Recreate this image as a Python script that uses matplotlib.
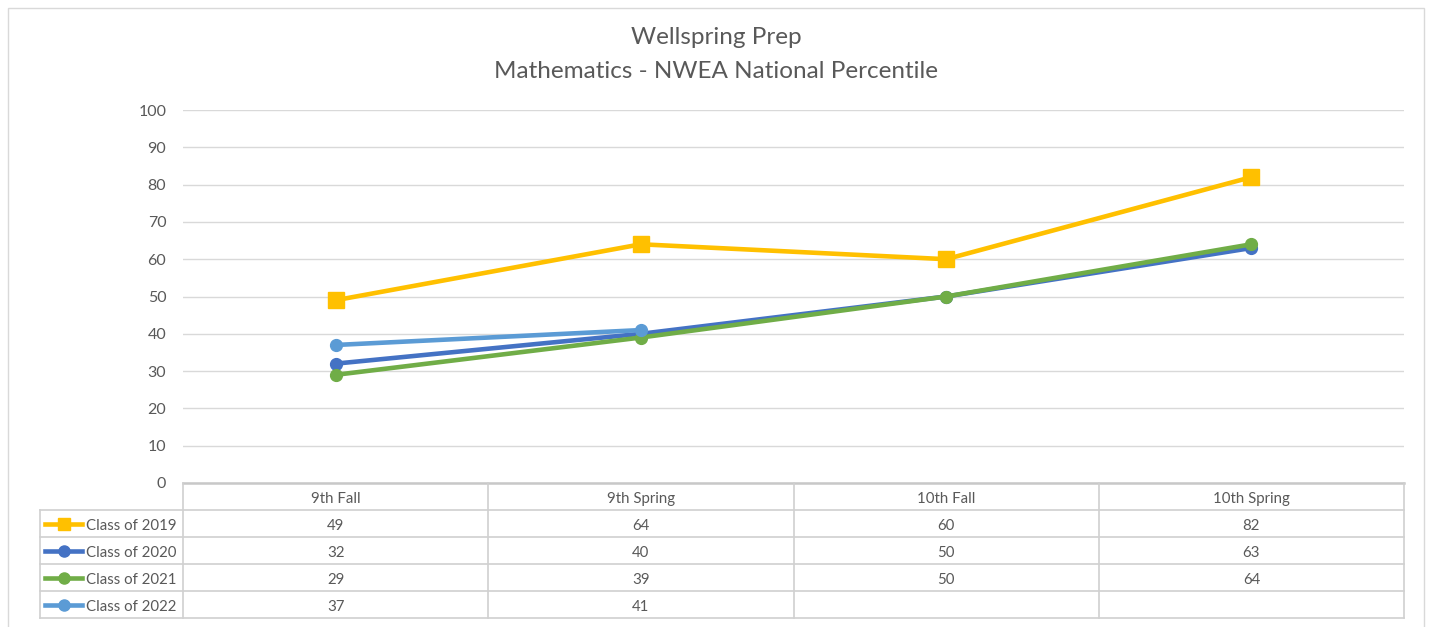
import matplotlib
matplotlib.use("Agg")
import matplotlib.pyplot as plt
import numpy as np
from matplotlib.lines import Line2D
from matplotlib.patches import Rectangle

plt.rcParams['font.family'] = ['Lato', 'DejaVu Sans']

# ---- data ----
categories = ["9th Fall", "9th Spring", "10th Fall", "10th Spring"]
series_names = ["Class of 2019", "Class of 2020", "Class of 2021", "Class of 2022"]
class_2019 = [49, 64, 60, 82]
class_2020 = [32, 40, 50, 63]
class_2021 = [29, 39, 50, 64]
class_2022 = [37, 41, None, None]
series_values = [class_2019, class_2020, class_2021, class_2022]
y_ticks = [0, 10, 20, 30, 40, 50, 60, 70, 80, 90, 100]
title_lines = ["Wellspring Prep", "Mathematics - NWEA National Percentile"]

colors = ["#FFC000", "#4472C4", "#70AD47", "#5B9BD5"]
markers = ["s", "o", "o", "o"]
msizes = [11, 8.5, 8.5, 8.5]
text_color = "#595959"
grid_color = "#D9D9D9"

W, H = 1429, 627
fig = plt.figure(figsize=(W / 100, H / 100), dpi=100)
fig.patch.set_facecolor("white")

def fx(px):
    return px / W

def fy(py):
    return 1 - py / H

# outer chart border
fig.add_artist(Rectangle((fx(8), fy(640)), fx(1424) - fx(8), fy(8) - fy(640),
                         transform=fig.transFigure, fill=False,
                         edgecolor="#D9D9D9", linewidth=1.0))

left_px, right_px = 183, 1404
top_px, bottom_px = 110, 483
ax = fig.add_axes([fx(left_px), fy(bottom_px), fx(right_px) - fx(left_px), fy(top_px) - fy(bottom_px)])
x = np.arange(len(categories))
for name, vals, c, m, ms in zip(series_names, series_values, colors, markers, msizes):
    v = np.array([np.nan if a is None else a for a in vals], dtype=float)
    ax.plot(x, v, color=c, linewidth=3.3, marker=m, markersize=ms,
            markerfacecolor=c, markeredgecolor=c, clip_on=False, solid_capstyle="round")
ax.set_xlim(-0.5, len(categories) - 0.5)
ax.set_ylim(0, 100)
ax.set_yticks(y_ticks)
ax.set_xticks([])
ax.tick_params(axis="y", length=0, pad=12, labelsize=11.5, labelcolor=text_color)
ax.yaxis.grid(True, color=grid_color, linewidth=1.0)
ax.set_axisbelow(True)
for s in ["top", "right", "left", "bottom"]:
    ax.spines[s].set_visible(False)

# title
fig.text(fx(716), fy(38), title_lines[0], ha="center", va="center", fontsize=17.5, color=text_color)
fig.text(fx(716), fy(71), title_lines[1], ha="center", va="center", fontsize=17.5, color=text_color)

# ---- data table ----
tbl_top, tbl_bot = 483, 618
tax = fig.add_axes([fx(left_px), fy(tbl_bot), fx(right_px) - fx(left_px), fy(tbl_top) - fy(tbl_bot)])
tax.set_xlim(-0.5, len(categories) - 0.5)
nrows = len(series_names) + 1
tax.set_ylim(nrows, 0)
tax.axis("off")
col_w = (right_px - left_px) / len(categories)

def dx(px):
    return -0.5 + (px - left_px) / col_w

lab_left = dx(40)
lc = "#D0D0D0"
toff = 0.08  # small downward nudge of text inside cells
# horizontal lines
tax.plot([-0.5, len(categories) - 0.5], [0, 0], color="#C8C8C8", linewidth=1.8, clip_on=False)
for r in range(1, nrows + 1):
    tax.plot([lab_left, len(categories) - 0.5], [r, r], color=lc, linewidth=1.2, clip_on=False)
# vertical lines
for k in range(len(categories) + 1):
    tax.plot([k - 0.5, k - 0.5], [0, nrows], color=lc, linewidth=1.2, clip_on=False)
tax.plot([lab_left, lab_left], [1, nrows], color=lc, linewidth=1.2, clip_on=False)

for j, cat in enumerate(categories):
    tax.text(j, 0.5 + toff, cat, ha="center", va="center", fontsize=10.8, color=text_color)
for i, (name, vals, c, m) in enumerate(zip(series_names, series_values, colors, markers)):
    yrow = i + 1.5
    tax.add_line(Line2D([dx(45), dx(82)], [yrow, yrow], color=c, linewidth=3.3, clip_on=False))
    tax.add_line(Line2D([dx(63.5)], [yrow], color=c, marker=m, markersize=8.5 if m == "s" else 8,
                        markerfacecolor=c, markeredgecolor=c, clip_on=False))
    tax.text(dx(86), yrow + toff, name, ha="left", va="center", fontsize=10.8, color=text_color, clip_on=False)
    for j, v in enumerate(vals):
        if v is not None:
            tax.text(j, yrow + toff, str(v), ha="center", va="center", fontsize=10.8, color=text_color)

fig.savefig("out.png", dpi=100, facecolor="white")
